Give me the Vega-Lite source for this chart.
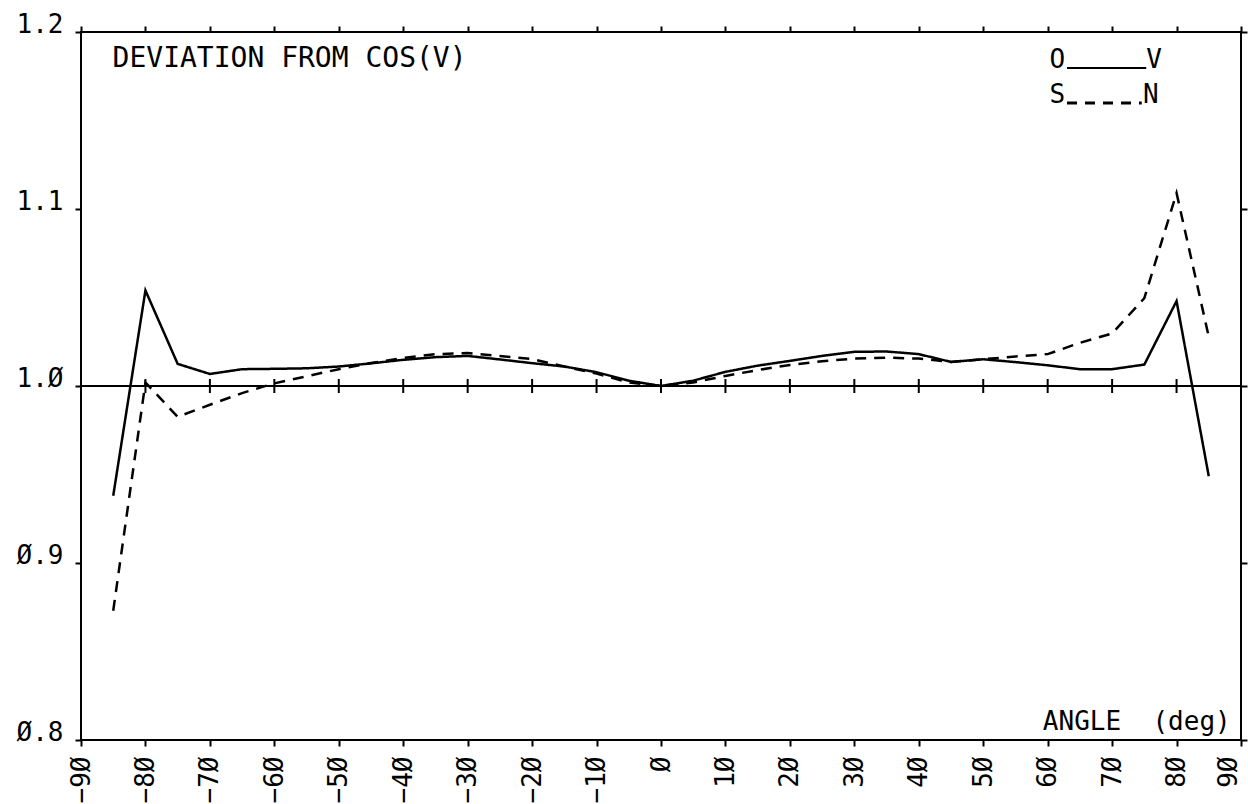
{
  "$schema": "https://vega.github.io/schema/vega-lite/v6.json",
  "autosize": "none",
  "width": 1160,
  "height": 708,
  "padding": {"left": 81, "top": 32, "right": 7, "bottom": 64},
  "background": "white",
  "config": {
    "view": {"stroke": "black", "strokeWidth": 2},
    "font": "DejaVu Sans Mono",
    "axis": {
      "domain": false,
      "grid": false,
      "ticks": true,
      "tickColor": "black",
      "tickWidth": 2,
      "tickSize": 6,
      "labelColor": "black",
      "labelFont": "DejaVu Sans Mono",
      "labelFontSize": 26,
      "title": null
    }
  },
  "datasets": {
    "curves": [
      {"angle": -85, "value": 0.938, "series": "O-V"},
      {"angle": -80, "value": 1.054, "series": "O-V"},
      {"angle": -75, "value": 1.0125, "series": "O-V"},
      {"angle": -70, "value": 1.0068, "series": "O-V"},
      {"angle": -65, "value": 1.0095, "series": "O-V"},
      {"angle": -60, "value": 1.0097, "series": "O-V"},
      {"angle": -55, "value": 1.0100, "series": "O-V"},
      {"angle": -50, "value": 1.0110, "series": "O-V"},
      {"angle": -45, "value": 1.0128, "series": "O-V"},
      {"angle": -40, "value": 1.0148, "series": "O-V"},
      {"angle": -35, "value": 1.0163, "series": "O-V"},
      {"angle": -30, "value": 1.0170, "series": "O-V"},
      {"angle": -25, "value": 1.0150, "series": "O-V"},
      {"angle": -20, "value": 1.0129, "series": "O-V"},
      {"angle": -15, "value": 1.0110, "series": "O-V"},
      {"angle": -10, "value": 1.0078, "series": "O-V"},
      {"angle": -5, "value": 1.0030, "series": "O-V"},
      {"angle": 0, "value": 1.0000, "series": "O-V"},
      {"angle": 5, "value": 1.0030, "series": "O-V"},
      {"angle": 10, "value": 1.0080, "series": "O-V"},
      {"angle": 15, "value": 1.0115, "series": "O-V"},
      {"angle": 20, "value": 1.0142, "series": "O-V"},
      {"angle": 25, "value": 1.0170, "series": "O-V"},
      {"angle": 30, "value": 1.0193, "series": "O-V"},
      {"angle": 35, "value": 1.0195, "series": "O-V"},
      {"angle": 40, "value": 1.0180, "series": "O-V"},
      {"angle": 45, "value": 1.0136, "series": "O-V"},
      {"angle": 50, "value": 1.0151, "series": "O-V"},
      {"angle": 55, "value": 1.0135, "series": "O-V"},
      {"angle": 60, "value": 1.0117, "series": "O-V"},
      {"angle": 65, "value": 1.0095, "series": "O-V"},
      {"angle": 70, "value": 1.0095, "series": "O-V"},
      {"angle": 75, "value": 1.0121, "series": "O-V"},
      {"angle": 80, "value": 1.0480, "series": "O-V"},
      {"angle": 85, "value": 0.9490, "series": "O-V"},
      {"angle": -85, "value": 0.873, "series": "S-N"},
      {"angle": -80, "value": 1.002, "series": "S-N"},
      {"angle": -75, "value": 0.9826, "series": "S-N"},
      {"angle": -70, "value": 0.9894, "series": "S-N"},
      {"angle": -65, "value": 0.9960, "series": "S-N"},
      {"angle": -60, "value": 1.0015, "series": "S-N"},
      {"angle": -55, "value": 1.0055, "series": "S-N"},
      {"angle": -50, "value": 1.0095, "series": "S-N"},
      {"angle": -45, "value": 1.0130, "series": "S-N"},
      {"angle": -40, "value": 1.0158, "series": "S-N"},
      {"angle": -35, "value": 1.0180, "series": "S-N"},
      {"angle": -30, "value": 1.0186, "series": "S-N"},
      {"angle": -25, "value": 1.0170, "series": "S-N"},
      {"angle": -20, "value": 1.0152, "series": "S-N"},
      {"angle": -15, "value": 1.0110, "series": "S-N"},
      {"angle": -10, "value": 1.0070, "series": "S-N"},
      {"angle": -5, "value": 1.0020, "series": "S-N"},
      {"angle": 0, "value": 1.0000, "series": "S-N"},
      {"angle": 5, "value": 1.0020, "series": "S-N"},
      {"angle": 10, "value": 1.0057, "series": "S-N"},
      {"angle": 15, "value": 1.0090, "series": "S-N"},
      {"angle": 20, "value": 1.0119, "series": "S-N"},
      {"angle": 25, "value": 1.0140, "series": "S-N"},
      {"angle": 30, "value": 1.0155, "series": "S-N"},
      {"angle": 35, "value": 1.0160, "series": "S-N"},
      {"angle": 40, "value": 1.0155, "series": "S-N"},
      {"angle": 45, "value": 1.0136, "series": "S-N"},
      {"angle": 50, "value": 1.0151, "series": "S-N"},
      {"angle": 55, "value": 1.0167, "series": "S-N"},
      {"angle": 60, "value": 1.0180, "series": "S-N"},
      {"angle": 65, "value": 1.0244, "series": "S-N"},
      {"angle": 70, "value": 1.0297, "series": "S-N"},
      {"angle": 75, "value": 1.0496, "series": "S-N"},
      {"angle": 80, "value": 1.1090, "series": "S-N"},
      {"angle": 85, "value": 1.0278, "series": "S-N"}
    ],
    "ref": [
      {"angle": -90}, {"angle": -80}, {"angle": -70}, {"angle": -60}, {"angle": -50},
      {"angle": -40}, {"angle": -30}, {"angle": -20}, {"angle": -10}, {"angle": 0},
      {"angle": 10}, {"angle": 20}, {"angle": 30}, {"angle": 40}, {"angle": 50},
      {"angle": 60}, {"angle": 70}, {"angle": 80}, {"angle": 90}
    ],
    "one": [{}]
  },
  "resolve": {"axis": {"x": "independent", "y": "independent"}},
  "layer": [
    {
      "data": {"name": "curves"},
      "mark": {"type": "line", "color": "black", "strokeWidth": 2.5, "clip": true},
      "encoding": {
        "x": {
          "field": "angle", "type": "quantitative",
          "scale": {"domain": [-90, 90], "nice": false, "zero": false},
          "axis": {
            "orient": "bottom",
            "values": [-90, -80, -70, -60, -50, -40, -30, -20, -10, 0, 10, 20, 30, 40, 50, 60, 70, 80, 90],
            "labelAngle": -90,
            "labelPadding": 10,
            "labelBaseline": {"condition": {"test": "datum.value == 90", "value": "bottom"}, "value": "middle"},
            "labelExpr": "replace(datum.label, /0/g, 'Ø')"
          }
        },
        "y": {
          "field": "value", "type": "quantitative",
          "scale": {"domain": [0.8, 1.2], "nice": false, "zero": false},
          "axis": {
            "orient": "left",
            "values": [0.8, 0.9, 1.0, 1.1, 1.2],
            "labelBaseline": "alphabetic",
            "labelPadding": 12,
            "labelExpr": "replace(format(datum.value, '.1f'), /0/g, 'Ø')"
          }
        },
        "strokeDash": {
          "field": "series", "type": "nominal",
          "scale": {"domain": ["O-V", "S-N"], "range": [[1, 0], [11, 8]]},
          "legend": null
        },
        "detail": {"field": "series"}
      }
    },
    {
      "data": {"name": "one"},
      "mark": {"type": "rule", "color": "black", "strokeWidth": 2},
      "encoding": {
        "y": {"datum": 1.0, "type": "quantitative", "axis": null}
      }
    },
    {
      "data": {"name": "ref"},
      "mark": {"type": "tick", "color": "black", "opacity": 1, "orient": "vertical", "size": 14, "thickness": 2},
      "encoding": {
        "x": {
          "field": "angle", "type": "quantitative",
          "axis": {"orient": "top", "labels": false, "values": [-90, -80, -70, -60, -50, -40, -30, -20, -10, 0, 10, 20, 30, 40, 50, 60, 70, 80, 90]}
        },
        "y": {
          "datum": 1.0, "type": "quantitative",
          "axis": {"orient": "right", "labels": false, "values": [0.8, 0.9, 1.0, 1.1, 1.2]}
        }
      }
    },
    {
      "data": {"name": "one"},
      "mark": {"type": "text", "text": "DEVIATION FROM COS(V)", "align": "left", "baseline": "alphabetic", "fontSize": 28, "font": "DejaVu Sans Mono", "color": "black"},
      "encoding": {
        "x": {"datum": -85.1, "type": "quantitative", "axis": null},
        "y": {"datum": 1.1802, "type": "quantitative", "axis": null}
      }
    },
    {
      "data": {"name": "one"},
      "mark": {"type": "text", "text": "ANGLE\u00a0 (deg)", "align": "right", "baseline": "alphabetic", "fontSize": 26, "font": "DejaVu Sans Mono", "color": "black"},
      "encoding": {
        "x": {"datum": 88.4, "type": "quantitative", "axis": null},
        "y": {"datum": 0.8057, "type": "quantitative", "axis": null}
      }
    },
    {
      "data": {"name": "one"},
      "mark": {"type": "text", "text": "O", "align": "left", "baseline": "alphabetic", "fontSize": 26, "font": "DejaVu Sans Mono", "color": "black"},
      "encoding": {
        "x": {"datum": 60.3, "type": "quantitative", "axis": null},
        "y": {"datum": 1.1797, "type": "quantitative", "axis": null}
      }
    },
    {
      "data": {"name": "one"},
      "mark": {"type": "text", "text": "V", "align": "left", "baseline": "alphabetic", "fontSize": 26, "font": "DejaVu Sans Mono", "color": "black"},
      "encoding": {
        "x": {"datum": 75.3, "type": "quantitative", "axis": null},
        "y": {"datum": 1.1797, "type": "quantitative", "axis": null}
      }
    },
    {
      "data": {"name": "one"},
      "mark": {"type": "text", "text": "S", "align": "left", "baseline": "alphabetic", "fontSize": 26, "font": "DejaVu Sans Mono", "color": "black"},
      "encoding": {
        "x": {"datum": 60.3, "type": "quantitative", "axis": null},
        "y": {"datum": 1.1599, "type": "quantitative", "axis": null}
      }
    },
    {
      "data": {"name": "one"},
      "mark": {"type": "text", "text": "N", "align": "left", "baseline": "alphabetic", "fontSize": 26, "font": "DejaVu Sans Mono", "color": "black"},
      "encoding": {
        "x": {"datum": 74.8, "type": "quantitative", "axis": null},
        "y": {"datum": 1.1599, "type": "quantitative", "axis": null}
      }
    },
    {
      "data": {"name": "one"},
      "mark": {"type": "rule", "color": "black", "strokeWidth": 2},
      "encoding": {
        "x": {"datum": 63.0, "type": "quantitative", "axis": null},
        "x2": {"datum": 75.3},
        "y": {"datum": 1.1797, "type": "quantitative", "axis": null}
      }
    },
    {
      "data": {"name": "one"},
      "mark": {"type": "rule", "color": "black", "strokeWidth": 3, "strokeDash": [10, 8]},
      "encoding": {
        "x": {"datum": 63.0, "type": "quantitative", "axis": null},
        "x2": {"datum": 74.6},
        "y": {"datum": 1.1599, "type": "quantitative", "axis": null}
      }
    }
  ]
}
